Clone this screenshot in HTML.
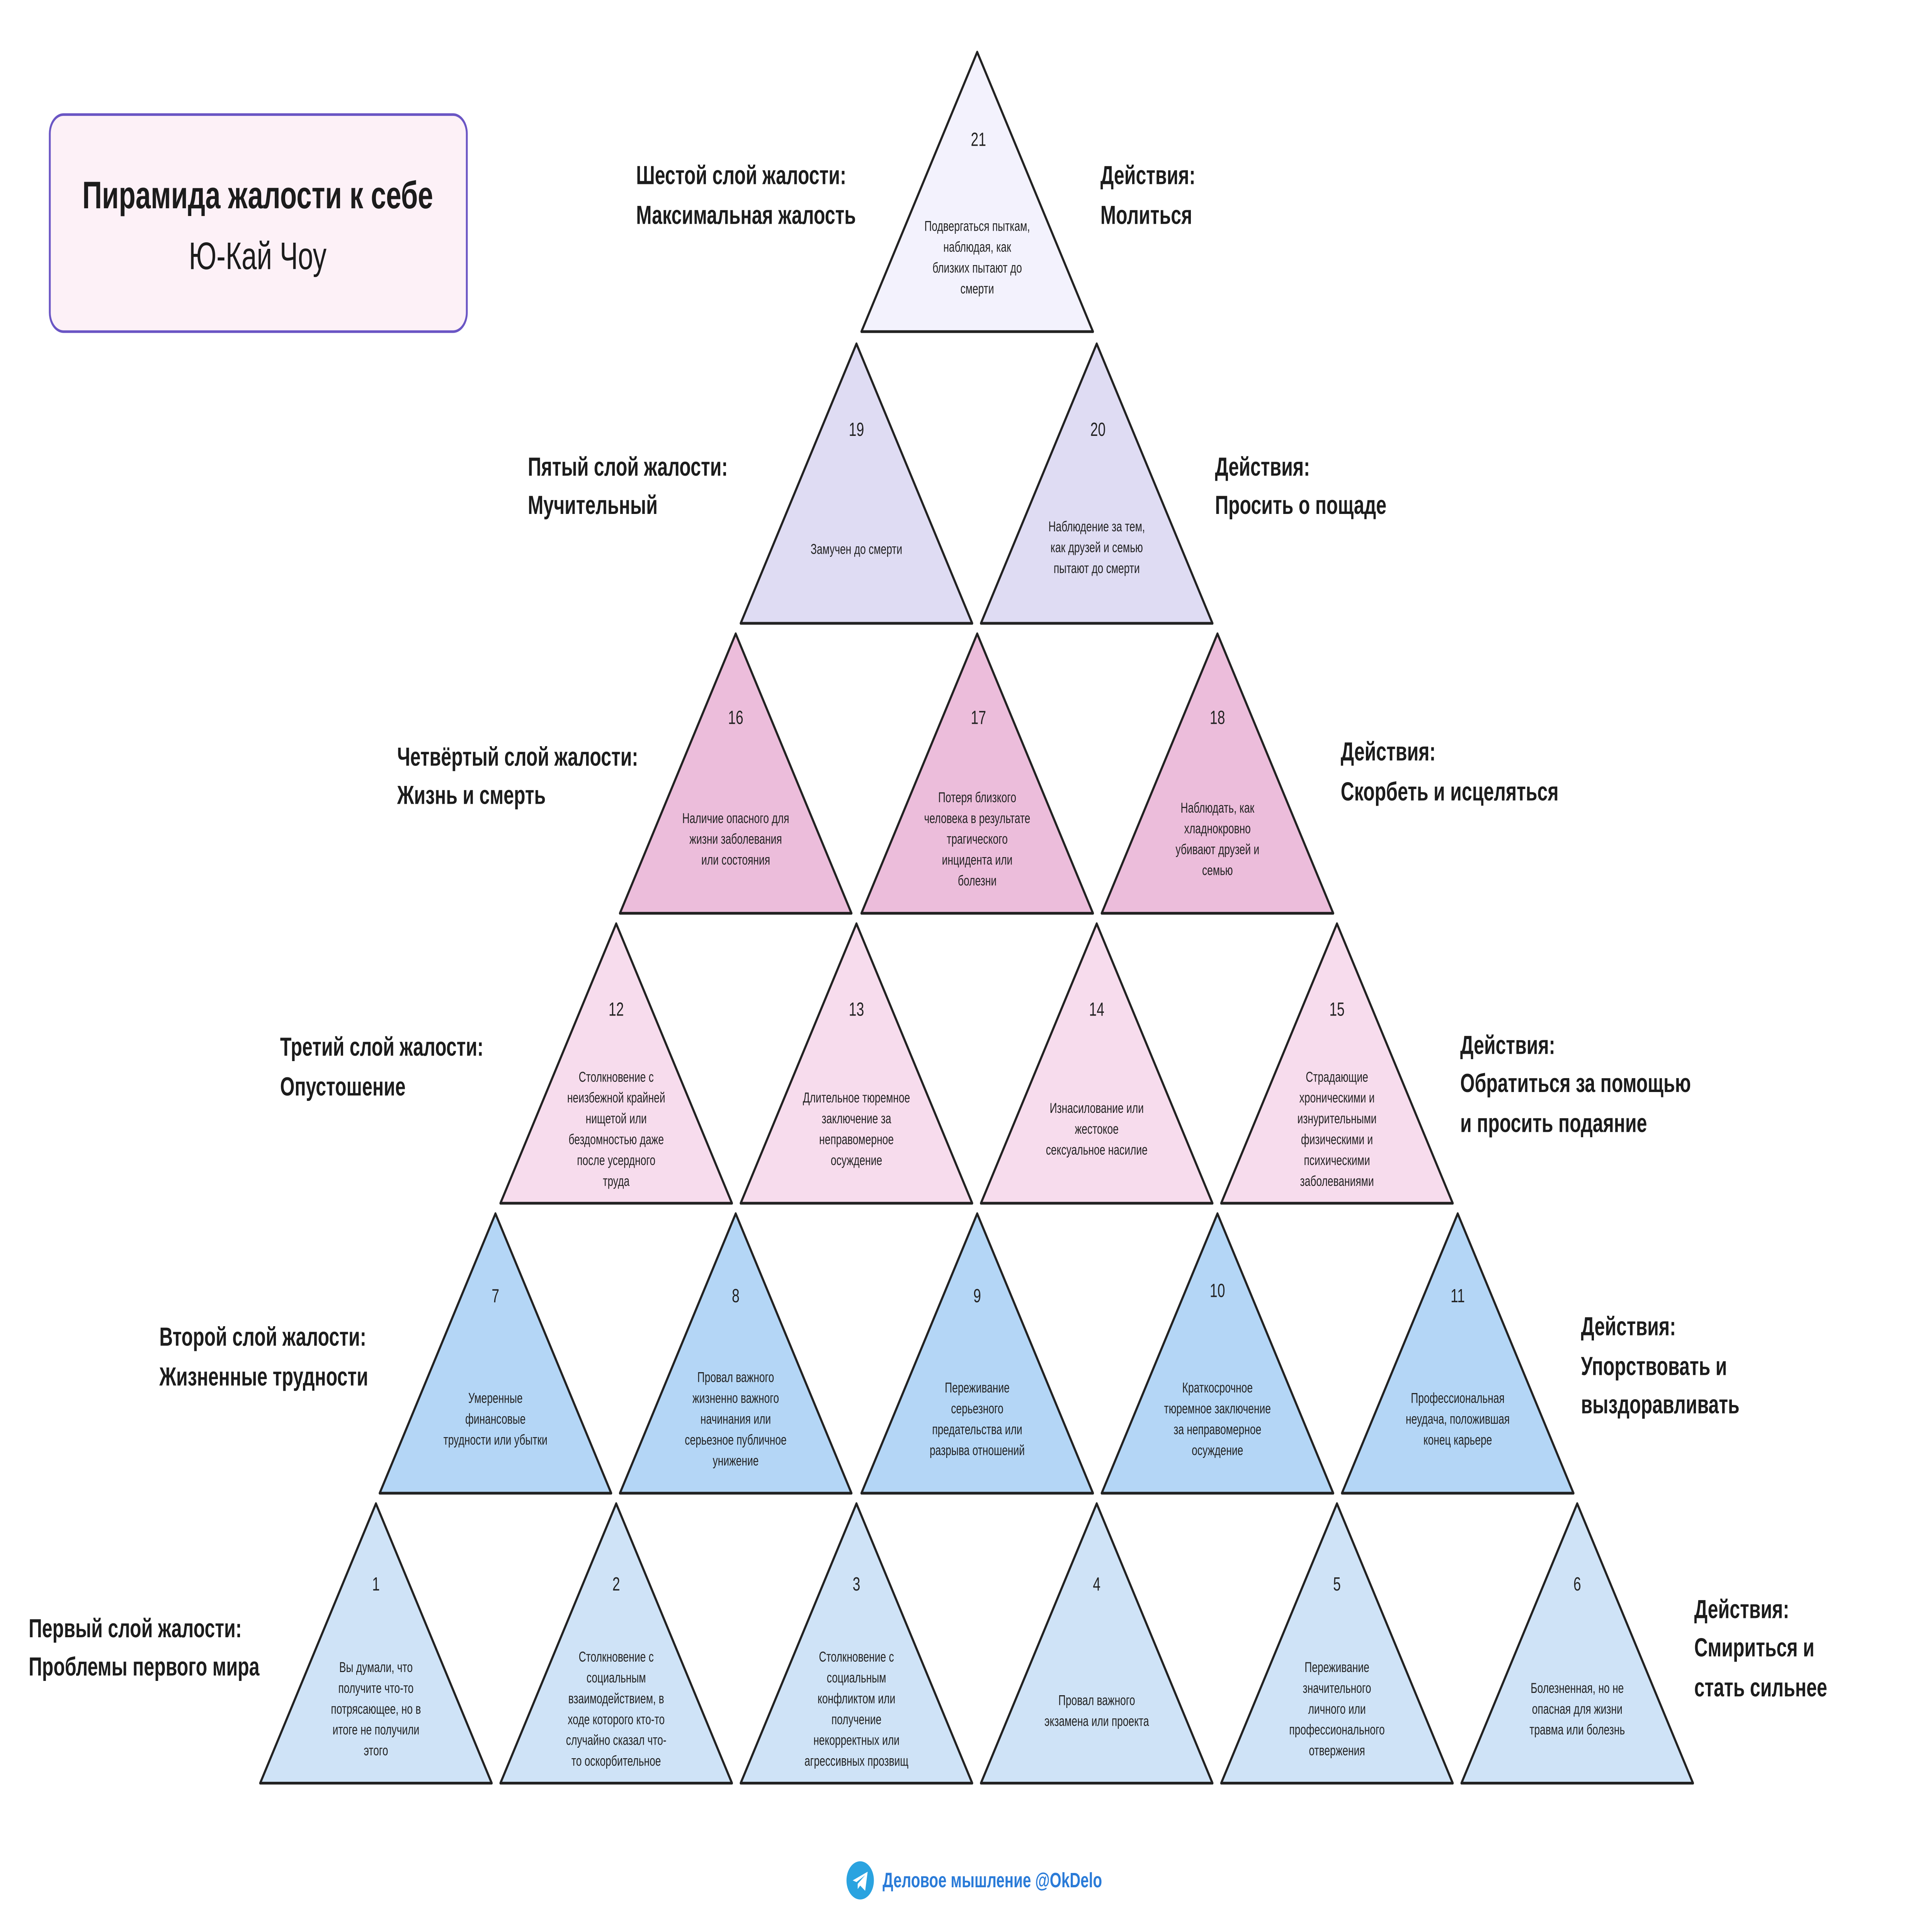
<!DOCTYPE html>
<html><head><meta charset="utf-8"><style>
html,body{margin:0;padding:0;background:#fff;width:100%;height:100%;overflow:hidden;}
svg{display:block;position:absolute;left:0;top:0;width:100vw;height:100vh;}
text{font-family:"Liberation Sans",sans-serif;}
.n{font-family:"Liberation Serif",serif;font-size:11px;fill:#222;text-anchor:middle;}
.b{font-size:8.2px;fill:#222;text-anchor:middle;}
.l{font-size:15px;font-weight:bold;fill:#1c1c1c;}
</style></head><body>
<svg viewBox="0 0 1552 1111" preserveAspectRatio="none" xmlns="http://www.w3.org/2000/svg">
<rect x="40" y="66" width="335" height="125" rx="11" fill="#fdf1f7" stroke="#6a55c4" stroke-width="1.5"/>
<text x="207" y="120" text-anchor="middle" style="font-size:22px;font-weight:bold;fill:#1c1c1c">Пирамида жалости к себе</text>
<text x="207" y="155" text-anchor="middle" style="font-size:22px;fill:#1c1c1c">Ю-Кай Чоу</text>
<g stroke="#222" stroke-width="1.6" stroke-linejoin="round">
<path d="M785 30 L878 191 L692 191 Z" fill="#f3f2fd"/>
<path d="M688 198 L781 359 L595 359 Z" fill="#dfdcf3"/>
<path d="M881 198 L974 359 L788 359 Z" fill="#dfdcf3"/>
<path d="M591 365 L684 526 L498 526 Z" fill="#ecbddb"/>
<path d="M785 365 L878 526 L692 526 Z" fill="#ecbddb"/>
<path d="M978 365 L1071 526 L885 526 Z" fill="#ecbddb"/>
<path d="M495 532 L588 693 L402 693 Z" fill="#f7dced"/>
<path d="M688 532 L781 693 L595 693 Z" fill="#f7dced"/>
<path d="M881 532 L974 693 L788 693 Z" fill="#f7dced"/>
<path d="M1074 532 L1167 693 L981 693 Z" fill="#f7dced"/>
<path d="M398 699 L491 860 L305 860 Z" fill="#b4d6f6"/>
<path d="M591 699 L684 860 L498 860 Z" fill="#b4d6f6"/>
<path d="M785 699 L878 860 L692 860 Z" fill="#b4d6f6"/>
<path d="M978 699 L1071 860 L885 860 Z" fill="#b4d6f6"/>
<path d="M1171 699 L1264 860 L1078 860 Z" fill="#b4d6f6"/>
<path d="M302 866 L395 1027 L209 1027 Z" fill="#cfe3f7"/>
<path d="M495 866 L588 1027 L402 1027 Z" fill="#cfe3f7"/>
<path d="M688 866 L781 1027 L595 1027 Z" fill="#cfe3f7"/>
<path d="M881 866 L974 1027 L788 1027 Z" fill="#cfe3f7"/>
<path d="M1074 866 L1167 1027 L981 1027 Z" fill="#cfe3f7"/>
<path d="M1267 866 L1360 1027 L1174 1027 Z" fill="#cfe3f7"/>
</g>
<g class="n">
<text x="786" y="84">21</text>
<text x="688" y="251">19</text><text x="882" y="251">20</text>
<text x="591" y="417">16</text><text x="786" y="417">17</text><text x="978" y="417">18</text>
<text x="495" y="585">12</text><text x="688" y="585">13</text><text x="881" y="585">14</text><text x="1074" y="585">15</text>
<text x="398" y="750">7</text><text x="591" y="750">8</text><text x="785" y="750">9</text><text x="978" y="747">10</text><text x="1171" y="750">11</text>
<text x="302" y="916">1</text><text x="495" y="916">2</text><text x="688" y="916">3</text><text x="881" y="916">4</text><text x="1074" y="916">5</text><text x="1267" y="916">6</text>
</g>
<g class="b">
<text x="785" y="133">Подвергаться пыткам,</text><text x="785" y="145">наблюдая, как</text><text x="785" y="157">близких пытают до</text><text x="785" y="169">смерти</text>
<text x="688" y="319">Замучен до смерти</text>
<text x="881" y="306">Наблюдение за тем,</text><text x="881" y="318">как друзей и семью</text><text x="881" y="330">пытают до смерти</text>
<text x="591" y="474">Наличие опасного для</text><text x="591" y="486">жизни заболевания</text><text x="591" y="498">или состояния</text>
<text x="785" y="462">Потеря близкого</text><text x="785" y="474">человека в результате</text><text x="785" y="486">трагического</text><text x="785" y="498">инцидента или</text><text x="785" y="510">болезни</text>
<text x="978" y="468">Наблюдать, как</text><text x="978" y="480">хладнокровно</text><text x="978" y="492">убивают друзей и</text><text x="978" y="504">семью</text>
<text x="495" y="623">Столкновение с</text><text x="495" y="635">неизбежной крайней</text><text x="495" y="647">нищетой или</text><text x="495" y="659">бездомностью даже</text><text x="495" y="671">после усердного</text><text x="495" y="683">труда</text>
<text x="688" y="635">Длительное тюремное</text><text x="688" y="647">заключение за</text><text x="688" y="659">неправомерное</text><text x="688" y="671">осуждение</text>
<text x="881" y="641">Изнасилование или</text><text x="881" y="653">жестокое</text><text x="881" y="665">сексуальное насилие</text>
<text x="1074" y="623">Страдающие</text><text x="1074" y="635">хроническими и</text><text x="1074" y="647">изнурительными</text><text x="1074" y="659">физическими и</text><text x="1074" y="671">психическими</text><text x="1074" y="683">заболеваниями</text>
<text x="398" y="808">Умеренные</text><text x="398" y="820">финансовые</text><text x="398" y="832">трудности или убытки</text>
<text x="591" y="796">Провал важного</text><text x="591" y="808">жизненно важного</text><text x="591" y="820">начинания или</text><text x="591" y="832">серьезное публичное</text><text x="591" y="844">унижение</text>
<text x="785" y="802">Переживание</text><text x="785" y="814">серьезного</text><text x="785" y="826">предательства или</text><text x="785" y="838">разрыва отношений</text>
<text x="978" y="802">Краткосрочное</text><text x="978" y="814">тюремное заключение</text><text x="978" y="826">за неправомерное</text><text x="978" y="838">осуждение</text>
<text x="1171" y="808">Профессиональная</text><text x="1171" y="820">неудача, положившая</text><text x="1171" y="832">конец карьере</text>
<text x="302" y="963">Вы думали, что</text><text x="302" y="975">получите что-то</text><text x="302" y="987">потрясающее, но в</text><text x="302" y="999">итоге не получили</text><text x="302" y="1011">этого</text>
<text x="495" y="957">Столкновение с</text><text x="495" y="969">социальным</text><text x="495" y="981">взаимодействием, в</text><text x="495" y="993">ходе которого кто-то</text><text x="495" y="1005">случайно сказал что-</text><text x="495" y="1017">то оскорбительное</text>
<text x="688" y="957">Столкновение с</text><text x="688" y="969">социальным</text><text x="688" y="981">конфликтом или</text><text x="688" y="993">получение</text><text x="688" y="1005">некорректных или</text><text x="688" y="1017">агрессивных прозвищ</text>
<text x="881" y="982">Провал важного</text><text x="881" y="994">экзамена или проекта</text>
<text x="1074" y="963">Переживание</text><text x="1074" y="975">значительного</text><text x="1074" y="987">личного или</text><text x="1074" y="999">профессионального</text><text x="1074" y="1011">отвержения</text>
<text x="1267" y="975">Болезненная, но не</text><text x="1267" y="987">опасная для жизни</text><text x="1267" y="999">травма или болезнь</text>
</g>
<g class="l">
<text x="511" y="106">Шестой слой жалости:</text><text x="511" y="129">Максимальная жалость</text>
<text x="884" y="106">Действия:</text><text x="884" y="129">Молиться</text>
<text x="424" y="274">Пятый слой жалости:</text><text x="424" y="296">Мучительный</text>
<text x="976" y="274">Действия:</text><text x="976" y="296">Просить о пощаде</text>
<text x="319" y="441">Четвёртый слой жалости:</text><text x="319" y="463">Жизнь и смерть</text>
<text x="1077" y="438">Действия:</text><text x="1077" y="461">Скорбеть и исцеляться</text>
<text x="225" y="608">Третий слой жалости:</text><text x="225" y="631">Опустошение</text>
<text x="1173" y="607">Действия:</text><text x="1173" y="629">Обратиться за помощью</text><text x="1173" y="652">и просить подаяние</text>
<text x="128" y="775">Второй слой жалости:</text><text x="128" y="798">Жизненные трудности</text>
<text x="1270" y="769">Действия:</text><text x="1270" y="792">Упорствовать и</text><text x="1270" y="814">выздоравливать</text>
<text x="23" y="943">Первый слой жалости:</text><text x="23" y="965">Проблемы первого мира</text>
<text x="1361" y="932">Действия:</text><text x="1361" y="954">Смириться и</text><text x="1361" y="977">стать сильнее</text>
</g>
<circle cx="691" cy="1083" r="11" fill="#2aa3e0"/>
<path d="M685 1083 L697 1078 L695 1089 L691 1086 L689 1088 L689 1085 L695 1080 L688 1084 Z" fill="#fff"/>
<text x="709" y="1087" style="font-size:12px;font-weight:bold;fill:#2a7bd8">Деловое мышление @OkDelo</text>
</svg>
</body></html>
